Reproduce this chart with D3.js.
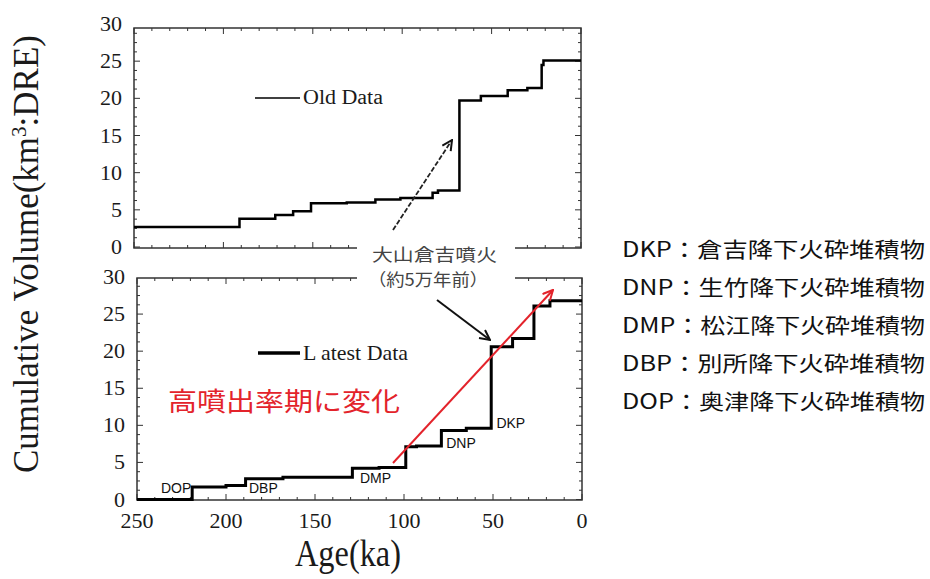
<!DOCTYPE html>
<meta charset="utf-8">
<script src="https://d3js.org/d3.v7.min.js"></script>
<style>
  body { margin: 0; background: #fff; }
  svg { display: block; }
</style>
<body>
<div id="chart"></div>
<script>
// age (ka) where each step starts, and cumulative volume from there on
var oldAge = [250, 191, 171, 161, 151, 131, 115, 101, 83, 80, 68, 56, 41, 30, 22, 21, 0];
var oldVol = [2.7, 3.8, 4.3, 4.8, 5.9, 6.0, 6.4, 6.6, 7.3, 7.6, 19.7, 20.3, 21.1, 21.4, 24.5, 25.1, 25.1];

var newAge = [250, 219, 200, 189, 168, 129, 114, 99, 93, 79, 65, 51, 39, 27, 18, 0];
var newVol = [0, 1.7, 1.9, 2.8, 3.0, 4.2, 4.3, 7.1, 7.2, 9.3, 9.6, 20.6, 21.7, 26.1, 26.8, 26.8];

// tephra labels in the lower panel (age, volume where the text sits)
var tephraCodes = ["DOP", "DBP", "DMP", "DNP", "DKP"];
var tephraAge = [228, 179, 116, 68, 40];
var tephraVol = [0.9, 0.9, 2.2, 6.9, 9.6];

var legendCodes = ["DKP", "DNP", "DMP", "DBP", "DOP"];
var legendNames = ["倉吉降下火砕堆積物", "生竹降下火砕堆積物", "松江降下火砕堆積物", "別所降下火砕堆積物", "奥津降下火砕堆積物"];

var xTickVals = [250, 200, 150, 100, 50, 0];
var yTickVals = [0, 5, 10, 15, 20, 25, 30];

var SERIF = "'Liberation Serif', 'Times New Roman', serif";
var SANS = "'Liberation Sans', Arial, sans-serif";
var CJK = "'Noto Sans CJK JP', sans-serif";

var svg = d3.select("#chart").append("svg")
  .attr("width", 930)
  .attr("height", 579);

// arrow heads
var defs = svg.append("defs");
function marker(id, color) {
  defs.append("marker")
    .attr("id", id)
    .attr("viewBox", "0 0 12 12")
    .attr("refX", 11).attr("refY", 6)
    .attr("markerWidth", 12).attr("markerHeight", 12)
    .attr("markerUnits", "userSpaceOnUse")
    .attr("orient", "auto")
    .append("path")
    .attr("d", "M1,1 L11,6 L1,11")
    .attr("fill", "none")
    .attr("stroke", color)
    .attr("stroke-width", 2);
}
marker("blackHead", "#111");
marker("redHead", "#e3232b");

function drawPanel(x, y, frameTop, frameBottom, ages, vols, lineW, labelRight, showX) {
  var g = svg.append("g");
  var x0 = x.range()[0], x1 = x.range()[1];

  // frame
  g.append("rect")
    .attr("x", x0).attr("y", frameTop)
    .attr("width", x1 - x0).attr("height", frameBottom - frameTop)
    .attr("fill", "none").attr("stroke", "#333").attr("stroke-width", 1.5);

  // inward ticks on all four sides
  var xt = d3.range(0, 251, 10);
  xt.forEach(function(v) {
    var len = v % 50 == 0 ? 6 : 3;
    g.append("line").attr("x1", x(v)).attr("x2", x(v))
      .attr("y1", frameBottom).attr("y2", frameBottom - len)
      .attr("stroke", "#333").attr("stroke-width", 1);
    g.append("line").attr("x1", x(v)).attr("x2", x(v))
      .attr("y1", frameTop).attr("y2", frameTop + len)
      .attr("stroke", "#333").attr("stroke-width", 1);
  });
  var yt = d3.range(0, 30.01, 1.25).filter(function(v) { return y(v) >= frameTop && y(v) <= frameBottom; });
  yt.forEach(function(v) {
    var len = v % 5 == 0 ? 6 : 3;
    g.append("line").attr("x1", x0).attr("x2", x0 + len)
      .attr("y1", y(v)).attr("y2", y(v))
      .attr("stroke", "#333").attr("stroke-width", 1);
    g.append("line").attr("x1", x1).attr("x2", x1 - len)
      .attr("y1", y(v)).attr("y2", y(v))
      .attr("stroke", "#333").attr("stroke-width", 1);
  });

  // y tick labels
  g.selectAll(".ylab").data(yTickVals).enter().append("text")
    .attr("x", labelRight)
    .attr("y", function(d) { return y(d) + 7; })
    .attr("text-anchor", "end")
    .attr("font-family", SERIF)
    .attr("font-size", 22)
    .attr("fill", "#1a1a1a")
    .text(function(d) { return d; });

  if (showX) {
    g.selectAll(".xlab").data(xTickVals).enter().append("text")
      .attr("x", function(d) { return x(d); })
      .attr("y", 528)
      .attr("text-anchor", "middle")
      .attr("font-family", SERIF)
      .attr("font-size", 22)
      .attr("fill", "#1a1a1a")
      .text(function(d) { return d; });
  }

  var pts = ages.map(function(a, i) { return [a, vols[i]]; });
  var line = d3.line()
    .x(function(d) { return x(d[0]); })
    .y(function(d) { return y(d[1]); })
    .curve(d3.curveStepAfter);
  g.append("path")
    .attr("d", line(pts))
    .attr("fill", "none")
    .attr("stroke", "#000")
    .attr("stroke-width", lineW);
  return g;
}

// upper panel: old data
var xTop = d3.scaleLinear().domain([250, 0]).range([134, 581]);
var yTop = d3.scaleLinear().domain([0, 30]).range([247, 24]);
drawPanel(xTop, yTop, 28, 248, oldAge, oldVol, 2.5, 122, false);

// lower panel: latest data
var xBot = d3.scaleLinear().domain([250, 0]).range([137, 582]);
var yBot = d3.scaleLinear().domain([0, 30]).range([499.5, 277]);
var gBot = drawPanel(xBot, yBot, 278, 500, newAge, newVol, 3, 125, true);

// tephra labels
gBot.selectAll(".teph").data(tephraCodes).enter().append("text")
  .attr("x", function(d, i) { return xBot(tephraAge[i]); })
  .attr("y", function(d, i) { return yBot(tephraVol[i]); })
  .attr("text-anchor", "middle")
  .attr("font-family", SANS)
  .attr("font-size", 14)
  .attr("fill", "#111")
  .text(function(d) { return d; });

// in-plot legends
svg.append("line").attr("x1", 255).attr("x2", 300).attr("y1", 98).attr("y2", 98)
  .attr("stroke", "#000").attr("stroke-width", 1.5);
svg.append("text")
  .attr("x", 303).attr("y", 104).attr("font-size", 20)
  .attr("font-family", SERIF).attr("fill", "#1a1a1a")
  .attr("textLength", 80).attr("lengthAdjust", "spacingAndGlyphs")
  .text("Old Data");
svg.append("line").attr("x1", 258).attr("x2", 300).attr("y1", 353).attr("y2", 353)
  .attr("stroke", "#000").attr("stroke-width", 3.5);
svg.append("text")
  .attr("x", 303).attr("y", 360).attr("font-size", 21)
  .attr("font-family", SERIF).attr("fill", "#1a1a1a")
  .attr("textLength", 105).attr("lengthAdjust", "spacingAndGlyphs")
  .text("L atest Data");

// callout box covering the frames
svg.append("rect").attr("x", 357).attr("y", 240).attr("width", 158).attr("height", 50)
  .attr("fill", "#fff");
svg.append("text")
  .attr("x", 372).attr("y", 261).attr("font-size", 17.5).attr("fill", "#444")
  .attr("font-family", CJK)
  .attr("textLength", 125).attr("lengthAdjust", "spacingAndGlyphs")
  .text("大山倉吉噴火");
svg.append("text")
  .attr("x", 368).attr("y", 286).attr("font-size", 17).attr("fill", "#444")
  .attr("font-family", CJK)
  .attr("textLength", 120).attr("lengthAdjust", "spacingAndGlyphs")
  .text("（約5万年前）");

// arrows
svg.append("line").attr("x1", 393).attr("y1", 230).attr("x2", 452).attr("y2", 140)
  .attr("stroke", "#222").attr("stroke-width", 1.8).attr("stroke-dasharray", "5,2")
  .attr("marker-end", "url(#blackHead)");
svg.append("line").attr("x1", 437).attr("y1", 300).attr("x2", 490).attr("y2", 340)
  .attr("stroke", "#111").attr("stroke-width", 2)
  .attr("marker-end", "url(#blackHead)");
svg.append("line").attr("x1", 393).attr("y1", 463).attr("x2", 553).attr("y2", 290)
  .attr("stroke", "#e3232b").attr("stroke-width", 2)
  .attr("marker-end", "url(#redHead)");

svg.append("text")
  .attr("x", 168).attr("y", 411).attr("font-size", 26).attr("fill", "#e3232b")
  .attr("font-family", CJK)
  .attr("textLength", 232).attr("lengthAdjust", "spacingAndGlyphs")
  .text("高噴出率期に変化");

// axis titles
svg.append("text")
  .attr("transform", "translate(38,254) rotate(-90)")
  .attr("text-anchor", "middle").attr("font-size", 35)
  .attr("font-family", SERIF).attr("fill", "#1a1a1a")
  .attr("textLength", 438).attr("lengthAdjust", "spacingAndGlyphs")
  .html('Cumulative Volume(km<tspan dy="-12" font-size="21">3</tspan><tspan dy="12">:DRE)</tspan>');
svg.append("text")
  .attr("x", 348).attr("y", 566).attr("text-anchor", "middle").attr("font-size", 37)
  .attr("font-family", SERIF).attr("fill", "#1a1a1a")
  .attr("textLength", 106).attr("lengthAdjust", "spacingAndGlyphs")
  .text("Age(ka)");

// side legend
svg.selectAll(".leg").data(legendCodes).enter().append("text")
  .attr("x", 622)
  .attr("y", function(d, i) { return 257 + i * 38; })
  .attr("font-family", CJK)
  .attr("font-size", 21)
  .attr("fill", "#111")
  .attr("textLength", 303)
  .attr("lengthAdjust", "spacingAndGlyphs")
  .text(function(d, i) { return d + "：" + legendNames[i]; });
</script>
</body>
</html>
